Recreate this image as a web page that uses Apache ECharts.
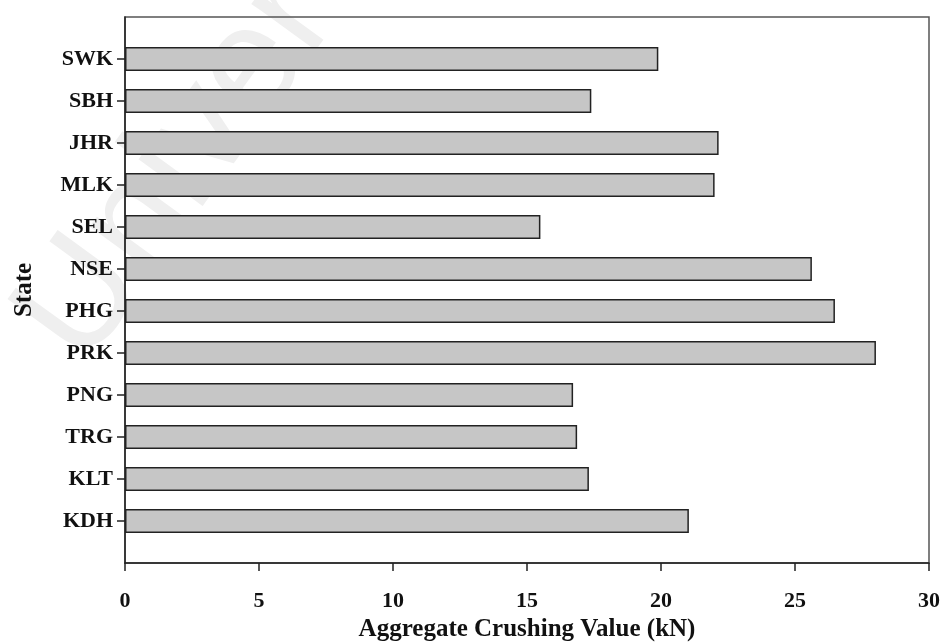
<!DOCTYPE html>
<html>
<head>
<meta charset="utf-8">
<script src="https://cdn.jsdelivr.net/npm/echarts@6/dist/echarts.min.js"></script>
<style>html,body{margin:0;padding:0;background:#fff}#c{width:944px;height:644px}</style>
</head>
<body>
<div id="c"></div>
<script>
// States listed top to bottom as in the chart
const states = ['SWK','SBH','JHR','MLK','SEL','NSE','PHG','PRK','PNG','TRG','KLT','KDH'];
const crushingValues = [19.9, 17.4, 22.15, 22.0, 15.5, 25.63, 26.49, 28.02, 16.72, 16.87, 17.31, 21.04];
const xTicks = [0, 5, 10, 15, 20, 25, 30];

// Category axis runs bottom-to-top; pad one empty slot at each end
const cats = [''].concat(states.slice().reverse()).concat(['']);
const vals = [null].concat(crushingValues.slice().reverse()).concat([null]);

const font = '"Liberation Serif", "Times New Roman", serif';
const chart = echarts.init(document.getElementById('c'), null, {renderer: 'canvas'});
chart.setOption({
  animation: false,
  backgroundColor: '#fff',
  graphic: [{
    type: 'text', left: -10, top: -50, rotation: Math.PI * 0.3, z: -10,
    style: {text: 'Univer', fill: '#efefef', font: '150px "Liberation Sans", sans-serif'}
  }],
  grid: {left: 125, right: 15, top: 17, bottom: 81, outerBoundsMode: 'none', containLabel: false,
         show: true, borderColor: '#555', borderWidth: 1.5, backgroundColor: 'transparent'},
  xAxis: {
    type: 'value', min: xTicks[0], max: xTicks[xTicks.length - 1], interval: 5,
    splitLine: {show: false},
    axisLine: {show: true, lineStyle: {color: '#222', width: 1.5}},
    axisTick: {show: true, inside: false, length: 8, lineStyle: {color: '#222', width: 1.5}},
    axisLabel: {color: '#111', fontFamily: font, fontWeight: 'bold', fontSize: 22, margin: 27},
    name: 'Aggregate Crushing Value (kN)', nameLocation: 'middle', nameGap: 54,
    nameTextStyle: {color: '#111', fontFamily: font, fontWeight: 'bold', fontSize: 25}
  },
  yAxis: {
    type: 'category', data: cats, boundaryGap: false,
    axisLine: {show: true, lineStyle: {color: '#222', width: 1.5}},
    axisTick: {show: true, length: 8, interval: function (i) { return i > 0 && i < cats.length - 1; }, lineStyle: {color: '#222', width: 1.5}},
    axisLabel: {color: '#111', fontFamily: font, fontWeight: 'bold', fontSize: 22, margin: 12, interval: 0},
    splitLine: {show: false},
    name: 'State', nameLocation: 'middle', nameGap: 88, nameRotate: 90,
    nameTextStyle: {color: '#111', fontFamily: font, fontWeight: 'bold', fontSize: 25}
  },
  series: [{
    type: 'bar', data: vals, barWidth: 24,
    itemStyle: {color: '#c6c6c6', borderColor: '#222', borderWidth: 1.5}
  }]
});
</script>
</body>
</html>
